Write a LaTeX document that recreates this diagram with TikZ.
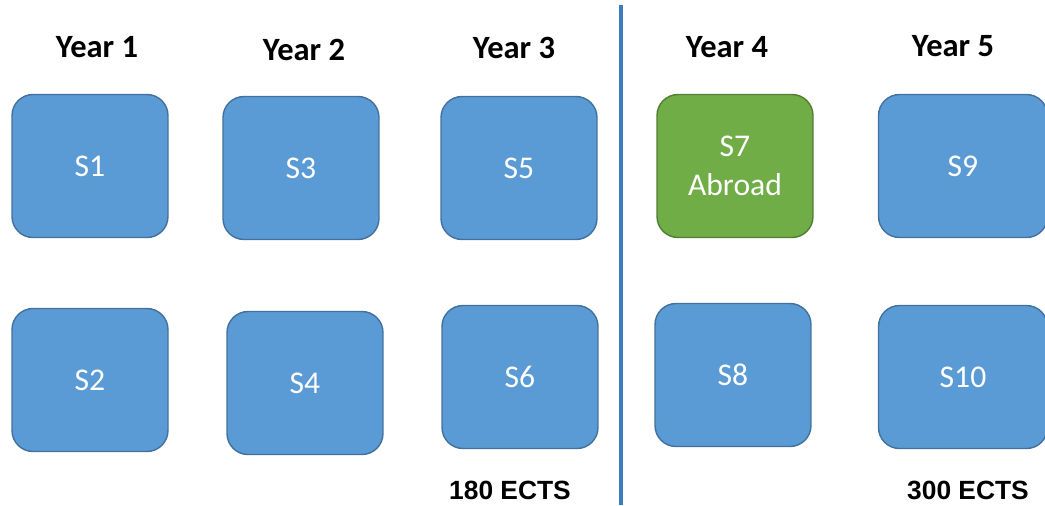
\documentclass[tikz,border=0pt]{standalone}
\usepackage{fontspec}
\setmainfont{Carlito}
\newfontfamily\ectsfont{Liberation Sans}
\usetikzlibrary{positioning}
\definecolor{semfill}{RGB}{91,155,213}
\definecolor{semedge}{RGB}{65,113,156}
\definecolor{abrfill}{RGB}{112,173,71}
\definecolor{abredge}{RGB}{80,126,50}
\definecolor{divline}{RGB}{58,125,190}

\begin{document}
\begin{tikzpicture}[x=0.02cm,y=-0.02cm,
	sem/.style={draw=semedge, fill=semfill, line width=0.8pt, rounded corners=0.42cm,
		minimum width=3.12cm, minimum height=2.86cm, text=white, align=center,
		font=\fontsize{18}{22}\selectfont},
	wide/.style={sem, minimum width=3.38cm},
	abroad/.style={sem, draw=abredge, fill=abrfill},
	year/.style={font=\fontsize{18.5}{22}\selectfont\bfseries},
	ects/.style={font=\ectsfont\fontsize{15}{18}\selectfont\bfseries}]
	\useasboundingbox (0,0) rectangle (1045,505);
	\node[year] (y1) at (97, 47) {Year 1};
	\node[year] (y2) at (304, 50) {Year 2};
	\node[year] (y3) at (514, 48) {Year 3};
	\node[year] (y4) at (727, 47) {Year 4};
	\node[year] (y5) at (953, 46) {Year 5};
	\node[sem] (s1) at (90, 166) {S1};
	\node[sem] (s2) at (90, 380) {S2};
	\node[sem] (s3) at (301, 168) {S3};
	\node[sem] (s4) at (305, 383) {S4};
	\node[sem] (s5) at (519, 168) {S5};
	\node[sem] (s6) at (520, 377) {S6};
	\node[abroad] (s7) at (735, 166) {S7\\Abroad};
	\node[sem] (s8) at (733, 375) {S8};
	\node[wide] (s9) at (963, 166) {S9};
	\node[wide] (s10) at (963, 377) {S10};
	\node[ects] (e3) at (510, 490) {180 ECTS};
	\node[ects] (e5) at (968, 490) {300 ECTS};
	\coordinate (top) at (621, 5);
	\coordinate (bot) at (621, 505);
	\draw [divline, line width=2.8pt] (top) to (bot);
\end{tikzpicture}
\end{document}
